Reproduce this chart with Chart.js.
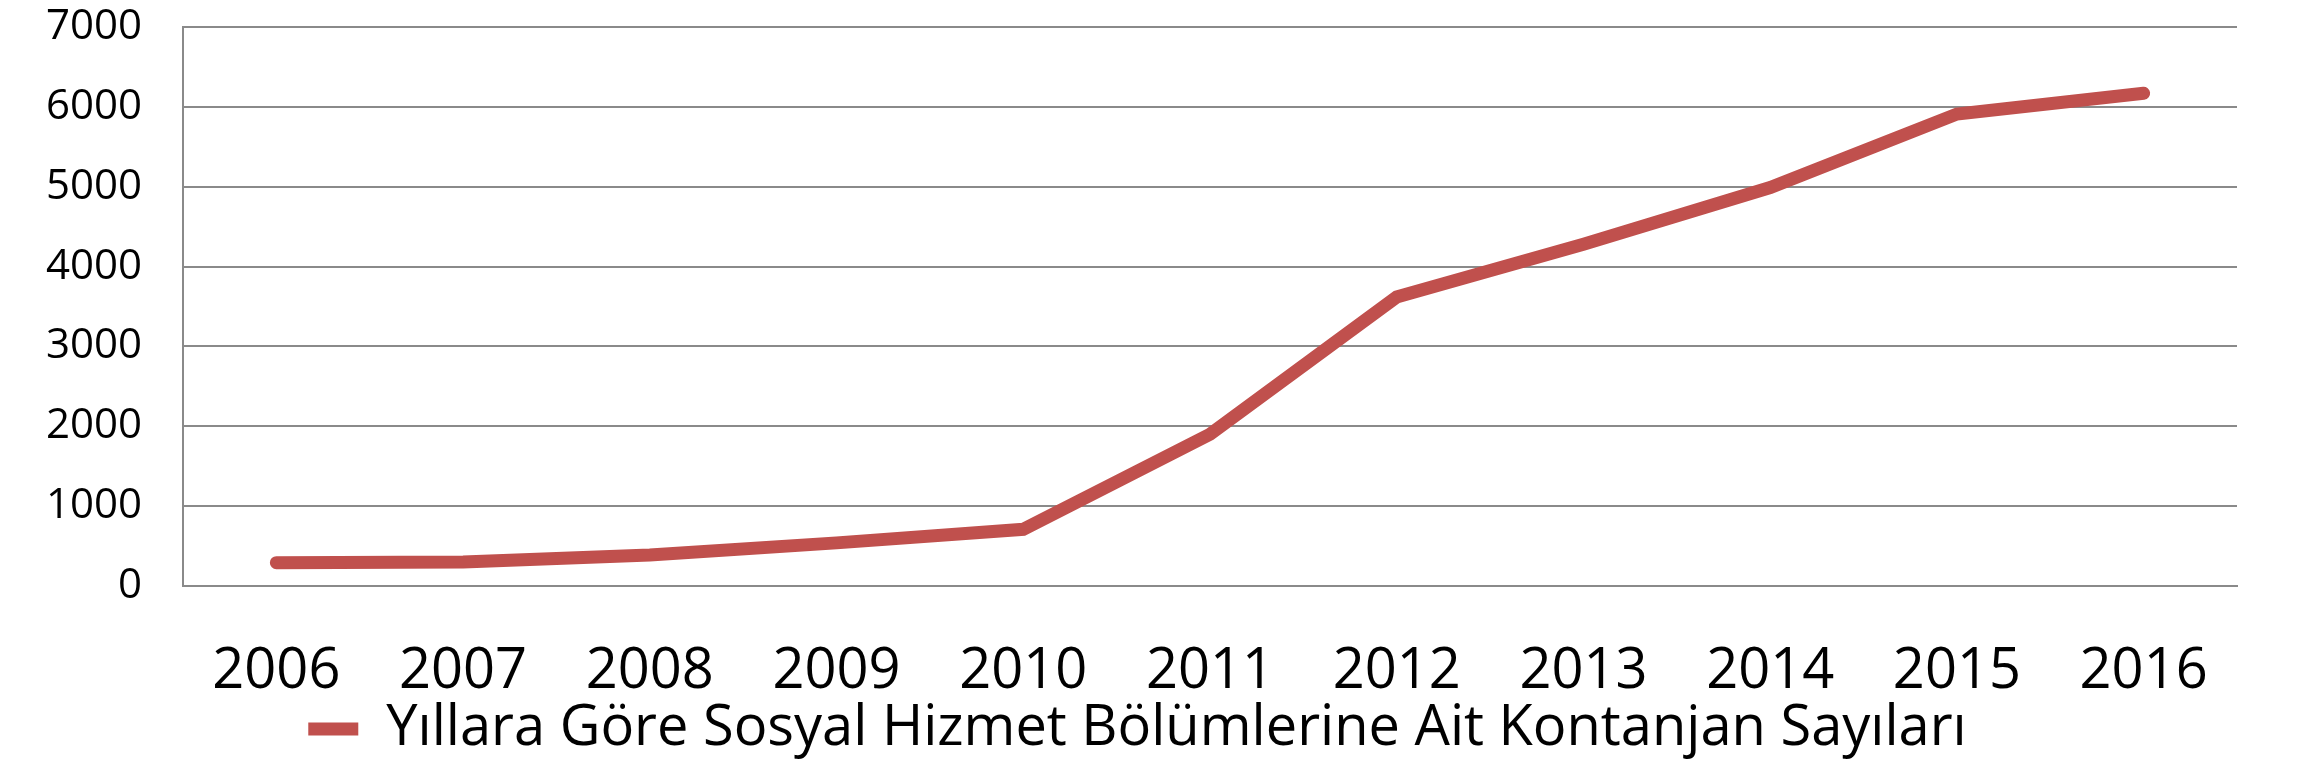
<!DOCTYPE html>
<html lang="tr">
<head>
<meta charset="utf-8">
<title>Kontanjan Sayıları</title>
<script src="https://cdn.jsdelivr.net/npm/chart.js@4/dist/chart.umd.min.js"></script>
<style>
    html, body { margin: 0; padding: 0; background: #fff; }
    #box { width: 2315px; height: 781px; }
</style>
</head>
<body>
<div id="box"><canvas id="myChart"></canvas></div>
<script>
const years = ['2006', '2007', '2008', '2009', '2010', '2011', '2012', '2013', '2014', '2015', '2016'];
const kontanjan = [292, 300, 388, 540, 710, 1900, 3620, 4280, 4990, 5910, 6170];
const yTicks = [0, 1000, 2000, 3000, 4000, 5000, 6000, 7000];
const seriesName = 'Yıllara Göre Sosyal Hizmet Bölümlerine Ait Kontanjan Sayıları';

const lineColor = '#C0504D';
const gridColor = '#8a8a8a';
const fontFamily = "'Open Sans', 'DejaVu Sans', sans-serif";

const config = {
    type: 'line',
    data: {
        labels: years,
        datasets: [{
            label: seriesName,
            data: kontanjan,
            borderColor: lineColor,
            backgroundColor: lineColor,
            borderWidth: 13,
            borderCapStyle: 'round',
            pointRadius: 0,
            pointHoverRadius: 0,
            pointStyle: 'line',
            tension: 0
        }]
    },
    options: {
        responsive: true,
        maintainAspectRatio: false,
        animation: false,
        layout: {
            // left padding moves the legend centre a bit, axis stays at x=183
            padding: { left: 38, right: 78, top: 27, bottom: 14 }
        },
        plugins: {
            tooltip: { enabled: false },
            legend: {
                position: 'bottom',
                labels: {
                    usePointStyle: true,
                    pointStyleWidth: 50,
                    padding: 10,
                    color: '#000',
                    font: { family: fontFamily, size: 56 }
                }
            }
        },
        scales: {
            x: {
                offset: true,
                grid: { display: false, drawTicks: false },
                border: { display: true, color: gridColor, width: 2 },
                ticks: {
                    color: '#000',
                    padding: 52,
                    maxRotation: 0,
                    font: { family: fontFamily, size: 56 }
                },
                afterFit: function (scale) {
                    scale.height = 105;
                    scale.paddingLeft = 0;
                    scale.paddingRight = 0;
                }
            },
            y: {
                min: 0,
                max: 7000,
                afterBuildTicks: function (scale) {
                    scale.ticks = yTicks.map(v => ({ value: v }));
                },
                grid: { color: gridColor, lineWidth: 2, drawTicks: false },
                border: { display: true, color: gridColor, width: 2 },
                ticks: {
                    color: '#000',
                    padding: 41,
                    font: { family: fontFamily, size: 42 },
                    callback: function (value) {
                        return String(value);
                    }
                },
                afterFit: function (scale) {
                    scale.width = 145;
                    scale.paddingTop = 0;
                    scale.paddingBottom = 0;
                }
            }
        }
    }
};

const myChart = new Chart(
    document.getElementById('myChart'),
    config
);
</script>
</body>
</html>
